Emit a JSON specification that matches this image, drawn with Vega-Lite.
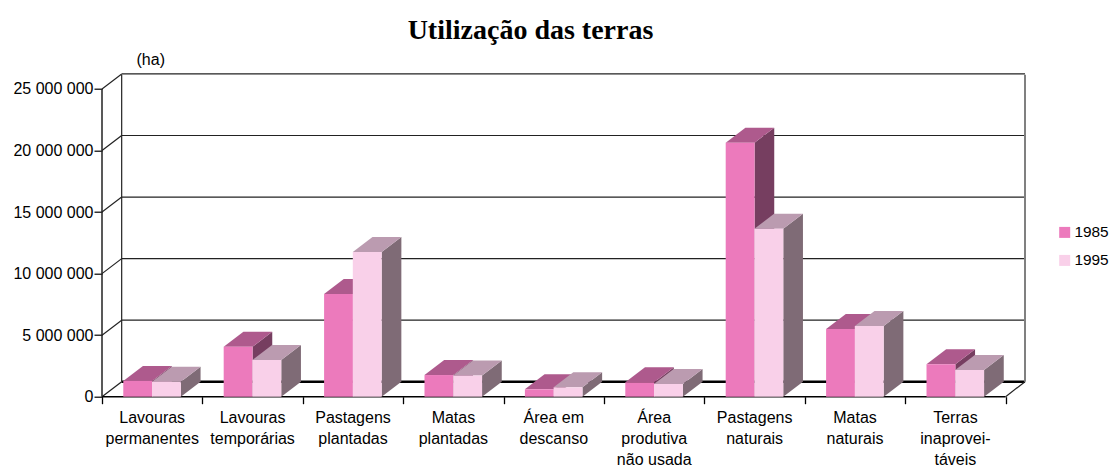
{
"$schema":"https://vega.github.io/schema/vega-lite/v6.json",
"width":923,"height":322,"autosize":"none",
"padding":{"left":102,"top":74.7,"right":84,"bottom":69.3},
"background":"white",
"title":{"text":"Utilização das terras","font":"Liberation Serif","fontSize":28,"fontWeight":"bold","color":"black","anchor":"middle","dx":-33,"offset":7},
"config":{"view":{"stroke":null},"font":"Liberation Sans"},
"datasets":{
"terras":[
{"cat":"Lavouras\npermanentes","year":1985,"value":1280000},
{"cat":"Lavouras\npermanentes","year":1995,"value":1220000},
{"cat":"Lavouras\ntemporárias","year":1985,"value":4050000},
{"cat":"Lavouras\ntemporárias","year":1995,"value":2990000},
{"cat":"Pastagens\nplantadas","year":1985,"value":8340000},
{"cat":"Pastagens\nplantadas","year":1995,"value":11760000},
{"cat":"Matas\nplantadas","year":1985,"value":1760000},
{"cat":"Matas\nplantadas","year":1995,"value":1720000},
{"cat":"Área em\ndescanso","year":1985,"value":600000},
{"cat":"Área em\ndescanso","year":1995,"value":760000},
{"cat":"Área\nprodutiva\nnão usada","year":1985,"value":1170000},
{"cat":"Área\nprodutiva\nnão usada","year":1995,"value":1030000},
{"cat":"Pastagens\nnaturais","year":1985,"value":20640000},
{"cat":"Pastagens\nnaturais","year":1995,"value":13650000},
{"cat":"Matas\nnaturais","year":1985,"value":5500000},
{"cat":"Matas\nnaturais","year":1995,"value":5740000},
{"cat":"Terras\ninaprovei-\ntáveis","year":1985,"value":2630000},
{"cat":"Terras\ninaprovei-\ntáveis","year":1995,"value":2170000}
],
"ticks":[{"v":0},{"v":5000000},{"v":10000000},{"v":15000000},{"v":20000000},{"v":25000000}]
},
"layer":[
{"data":{"name":"ticks"},
 "transform":[{"calculate":"datum.v+1219000","as":"vb"}],
 "layer":[
 {"mark":{"type":"rule","color":"#222","strokeWidth":1.2},
  "encoding":{
   "x":{"datum":0,"type":"quantitative","scale":{"domain":[0,9.193],"nice":false,"zero":false},
     "axis":{"values":[0,1,2,3,4,5,6,7,8,9],"labels":false,"title":null,"domain":false,"grid":false,"ticks":true,"tickSize":7,"tickColor":"black","tickWidth":1.3}},
   "x2":{"datum":0.196},
   "y":{"field":"v","type":"quantitative","scale":{"domain":[0,26160000],"nice":false,"zero":false},
     "axis":{"values":[0,5000000,10000000,15000000,20000000,25000000],"labelExpr":"replace(format(datum.value,','),/,/g,' ')","labelFont":"Liberation Sans","labelFontSize":16,"labelColor":"black","labelPadding":1,"tickSize":8,"tickColor":"black","tickWidth":1.2,"domain":false,"grid":false,
       "title":"(ha)","titleAngle":0,"titleX":34,"titleY":-15,"titleAlign":"left","titleBaseline":"middle","titleFont":"Liberation Sans","titleFontSize":16,"titleFontWeight":"normal","titleColor":"black"}},
   "y2":{"field":"vb"}}},
 {"mark":{"type":"rule","color":"#222","strokeWidth":1.2},
  "transform":[{"filter":"datum.v>0"}],
  "encoding":{"x":{"datum":0.196,"type":"quantitative"},"x2":{"datum":9.193},"y":{"field":"vb","type":"quantitative"}}},
 {"mark":{"type":"rule","color":"black","strokeWidth":2.5},
  "transform":[{"filter":"datum.v==0"}],
  "encoding":{"x":{"datum":0.196,"type":"quantitative"},"x2":{"datum":9.193},"y":{"field":"vb","type":"quantitative"}}},
 {"mark":{"type":"rule","color":"black","strokeWidth":1.5},
  "transform":[{"filter":"datum.v==0"}],
  "encoding":{"x":{"datum":0,"type":"quantitative"},"x2":{"datum":9},"y":{"field":"v","type":"quantitative"}}},
 {"mark":{"type":"rule","color":"#222","strokeWidth":1.2},
  "transform":[{"filter":"datum.v==0"}],
  "encoding":{"x":{"datum":9,"type":"quantitative"},"x2":{"datum":9.193},"y":{"field":"v","type":"quantitative"},"y2":{"field":"vb"}}},
 {"mark":{"type":"rule","color":"#222","strokeWidth":1.5},
  "transform":[{"filter":"datum.v==0"}],
  "encoding":{"x":{"datum":0,"type":"quantitative"},"y":{"datum":0,"type":"quantitative"},"y2":{"datum":25000000}}},
 {"mark":{"type":"rule","color":"#222","strokeWidth":1.2},
  "transform":[{"filter":"datum.v==0"}],
  "encoding":{"x":{"datum":0.196,"type":"quantitative"},"y":{"datum":1219000,"type":"quantitative"},"y2":{"datum":26160000}}},
 {"mark":{"type":"rule","color":"#808080","strokeWidth":2},
  "transform":[{"filter":"datum.v==0"}],
  "encoding":{"x":{"datum":9.193,"type":"quantitative"},"y":{"datum":1219000,"type":"quantitative"},"y2":{"datum":26160000}}}
 ]},
{"data":{"name":"terras"},
 "transform":[
  {"window":[{"op":"row_number","as":"n"}],"groupby":["year"]},
  {"calculate":"datum.n-1+(datum.year==1985?0.212:0.498)","as":"x0"},
  {"calculate":"datum.x0+0.2875","as":"x1"}
 ],
 "layer":[
 {"transform":[{"filter":"datum.year==1985"},{"calculate":"[0,1]","as":"t"},{"flatten":["t"]},
   {"calculate":"datum.x1+datum.t*0.196","as":"xs"},{"calculate":"datum.value+datum.t*1219000","as":"yu"},{"calculate":"datum.t*1219000","as":"yl"}],
  "mark":{"type":"area","color":"#763E60"},
  "encoding":{"x":{"field":"xs","type":"quantitative"},"y":{"field":"yu","type":"quantitative","stack":null},"y2":{"field":"yl"},"detail":{"field":"cat"}}},
 {"transform":[{"filter":"datum.year==1985"},{"calculate":"[0,1,2,3]","as":"t"},{"flatten":["t"]},
   {"calculate":"datum.t==0?datum.x0:datum.t==1?datum.x0+0.196:datum.t==2?datum.x1:datum.x1+0.196","as":"xs"},{"calculate":"datum.t==0?datum.value:datum.value+1219000","as":"yu"},{"calculate":"datum.t==3?datum.value+1219000:datum.value","as":"yl"}],
  "mark":{"type":"area","color":"#AE5A8D"},
  "encoding":{"x":{"field":"xs","type":"quantitative"},"y":{"field":"yu","type":"quantitative","stack":null},"y2":{"field":"yl"},"detail":{"field":"cat"}}},
 {"transform":[{"filter":"datum.year==1995"},{"calculate":"[0,1]","as":"t"},{"flatten":["t"]},
   {"calculate":"datum.x1+datum.t*0.196","as":"xs"},{"calculate":"datum.value+datum.t*1219000","as":"yu"},{"calculate":"datum.t*1219000","as":"yl"}],
  "mark":{"type":"area","color":"#7F6B76"},
  "encoding":{"x":{"field":"xs","type":"quantitative"},"y":{"field":"yu","type":"quantitative","stack":null},"y2":{"field":"yl"},"detail":{"field":"cat"}}},
 {"transform":[{"filter":"datum.year==1995"},{"calculate":"[0,1,2,3]","as":"t"},{"flatten":["t"]},
   {"calculate":"datum.t==0?datum.x0:datum.t==1?datum.x0+0.196:datum.t==2?datum.x1:datum.x1+0.196","as":"xs"},{"calculate":"datum.t==0?datum.value:datum.value+1219000","as":"yu"},{"calculate":"datum.t==3?datum.value+1219000:datum.value","as":"yl"}],
  "mark":{"type":"area","color":"#BB9BB0"},
  "encoding":{"x":{"field":"xs","type":"quantitative"},"y":{"field":"yu","type":"quantitative","stack":null},"y2":{"field":"yl"},"detail":{"field":"cat"}}},
 {"mark":{"type":"rect"},
  "encoding":{"x":{"field":"x0","type":"quantitative"},"x2":{"field":"x1"},"y":{"field":"value","type":"quantitative"},"y2":{"datum":0},
   "color":{"field":"year","type":"nominal","scale":{"domain":[1985,1995],"range":["#EC7ABC","#F9D0E9"]},
    "legend":{"orient":"none","legendX":955,"legendY":150,"title":null,"symbolType":"square","symbolSize":121,"symbolStrokeWidth":0,"labelFont":"Liberation Sans","labelFontSize":15.4,"labelColor":"black","labelOffset":2,"rowPadding":11,"padding":0}}}},
 {"transform":[{"filter":"datum.year==1985"},{"calculate":"datum.n-0.5","as":"xc"}],
  "mark":{"type":"text","lineBreak":"\n","baseline":"top","align":"center","font":"Liberation Sans","fontSize":16,"lineHeight":21,"color":"black","yOffset":13},
  "encoding":{"x":{"field":"xc","type":"quantitative"},"y":{"datum":0,"type":"quantitative"},"text":{"field":"cat"}}}
 ]}
]
}
